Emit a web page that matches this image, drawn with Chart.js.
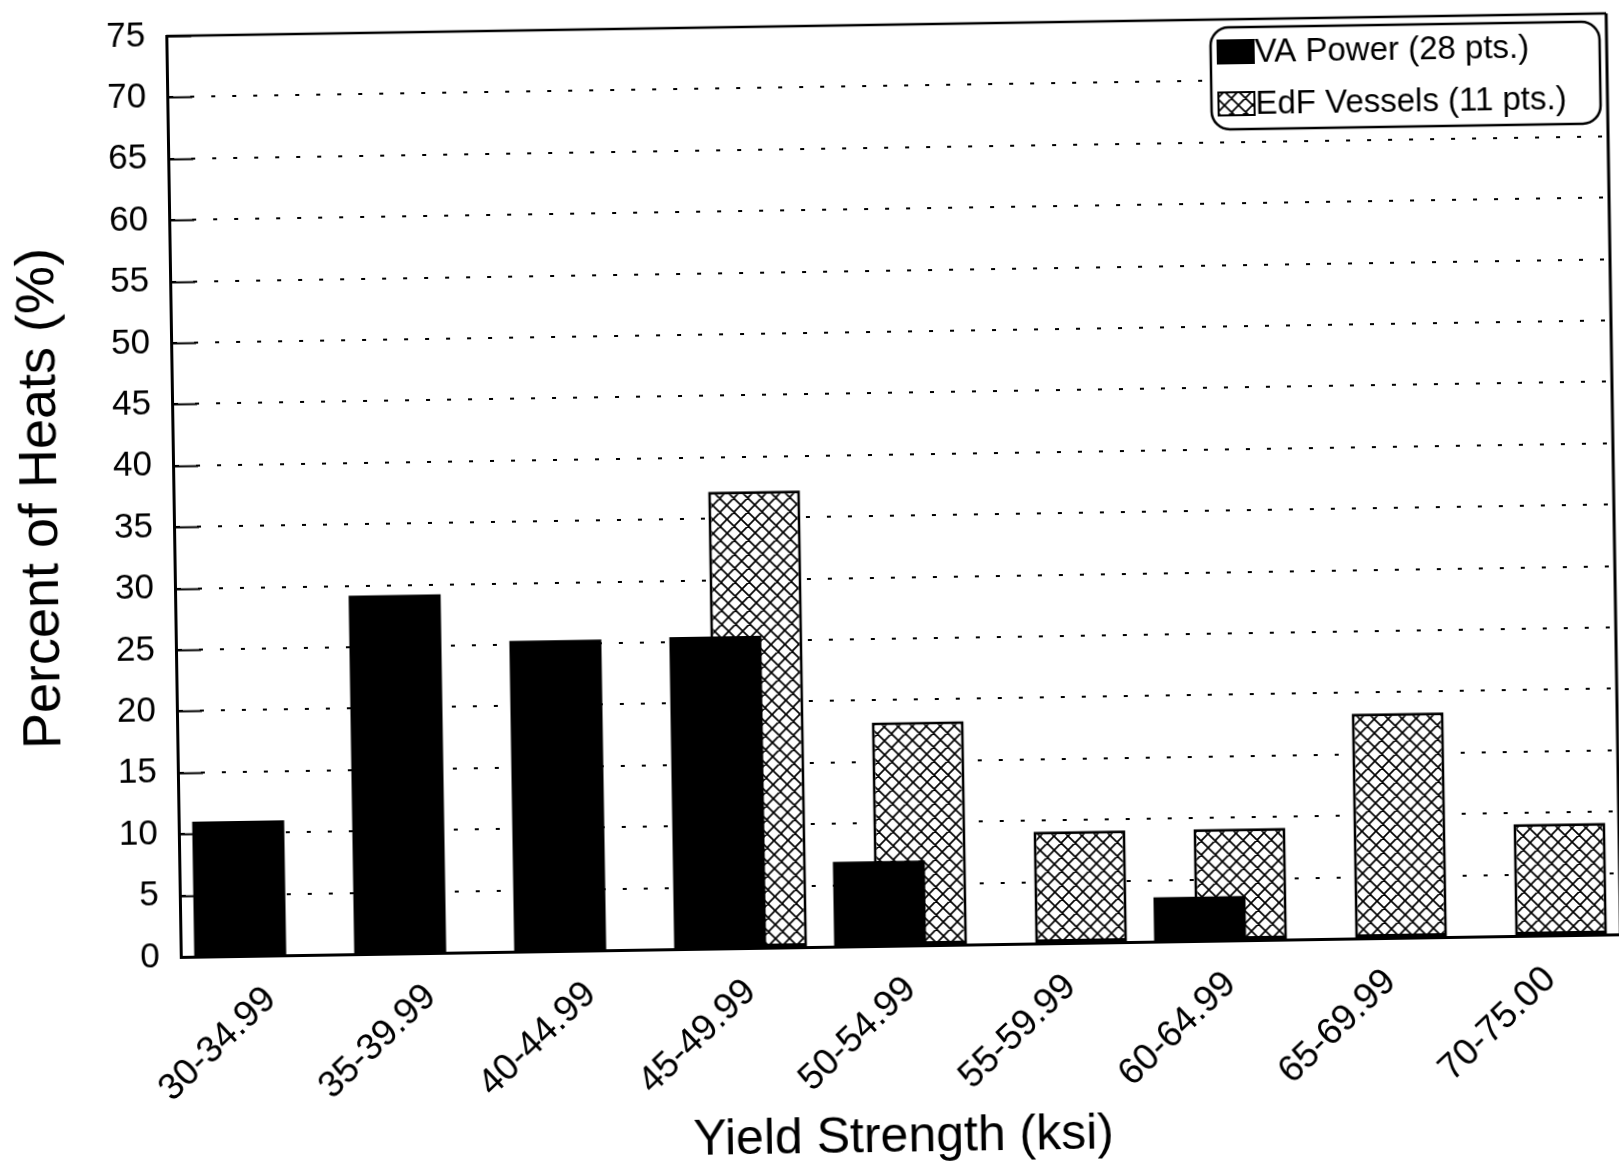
<!DOCTYPE html>
<html>
<head>
<meta charset="utf-8">
<title>Yield Strength Distribution</title>
<script src="https://cdn.jsdelivr.net/npm/chart.js@4.4.1/dist/chart.umd.min.js"></script>
<style>
  html, body { margin: 0; padding: 0; background: #fff; overflow: hidden; }
  #wrap {
    position: absolute; left: 0; top: 0;
    width: 1619px; height: 1169px;
    transform: rotate(-0.9deg);
    transform-origin: 50% 50%;
  }
</style>
</head>
<body>
<div id="wrap"><canvas id="chart" width="1619" height="1169"></canvas></div>
<script>
// Yield strength bins (ksi)
const categories = [
  "30-34.99", "35-39.99", "40-44.99", "45-49.99", "50-54.99",
  "55-59.99", "60-64.99", "65-69.99", "70-75.00"
];
// Percent of heats in each bin
const vaPower = [11.0, 29.2, 25.3, 25.4, 6.9, 0, 3.6, 0, 0];
const edfVessels = [0, 0, 0, 37.2, 18.2, 9.1, 9.1, 18.3, 9.1];
const seriesLabels = ["VA Power (28 pts.)", "EdF Vessels (11 pts.)"];
const yTickValues = [0, 5, 10, 15, 20, 25, 30, 35, 40, 45, 50, 55, 60, 65, 70, 75];

const FONT = "'Liberation Sans', Arial, Helvetica, sans-serif";

// Cross-hatch fill for the EdF bars
function makeHatch() {
  const size = 14;
  const c = document.createElement("canvas");
  c.width = size;
  c.height = size;
  const g = c.getContext("2d");
  g.fillStyle = "#fff";
  g.fillRect(0, 0, size, size);
  g.strokeStyle = "#000";
  g.lineWidth = 1.7;
  g.beginPath();
  [-size, 0, size].forEach((off) => {
    g.moveTo(off, 0);
    g.lineTo(off + size, size);
    g.moveTo(off + size, 0);
    g.lineTo(off, size);
  });
  g.stroke();
  return g.createPattern(c, "repeat");
}
const hatch = makeHatch();

// Top/right frame plus the short solid ticks inside the y axis
const framePlugin = {
  id: "frame",
  afterDatasetsDraw(chart) {
    const { ctx, chartArea } = chart;
    const y = chart.scales.y;
    ctx.save();
    ctx.strokeStyle = "#000";
    ctx.lineWidth = 2;
    ctx.beginPath();
    yTickValues.forEach((v) => {
      const py = Math.round(y.getPixelForValue(v)) + 0.5;
      ctx.moveTo(chartArea.left, py);
      ctx.lineTo(chartArea.left + 25, py);
    });
    ctx.stroke();

    ctx.lineWidth = 2.5;
    ctx.beginPath();
    ctx.moveTo(chartArea.left, chartArea.top);
    ctx.lineTo(chartArea.right, chartArea.top);
    ctx.stroke();
    ctx.lineWidth = 3;
    ctx.beginPath();
    ctx.moveTo(chartArea.right, chartArea.top);
    ctx.lineTo(chartArea.right, chartArea.bottom + 1);
    ctx.stroke();
    ctx.restore();
  },
};

// Rounded legend box in the upper right of the plot
const legendBoxPlugin = {
  id: "legendBox",
  afterDraw(chart) {
    const { ctx, chartArea } = chart;
    const w = 389, h = 102;
    const x = chartArea.right - 7 - w;
    const top = chartArea.top + 8;
    ctx.save();
    ctx.strokeStyle = "#000";
    ctx.lineWidth = 2.5;
    ctx.fillStyle = "#fff";
    ctx.beginPath();
    ctx.roundRect(x, top, w, h, 18);
    ctx.fill();
    ctx.stroke();

    const rows = [
      { label: seriesLabels[0], fill: "#000", dy: 13 },
      { label: seriesLabels[1], fill: hatch, dy: 65 },
    ];
    ctx.font = "33px " + FONT;
    ctx.textBaseline = "middle";
    ctx.textAlign = "left";
    rows.forEach((r) => {
      const sx = x + 7, sy = top + r.dy, sw = 36, sh = 23;
      ctx.fillStyle = r.fill;
      ctx.fillRect(sx, sy, sw, sh);
      ctx.lineWidth = 2;
      ctx.strokeRect(sx, sy, sw, sh);
      ctx.fillStyle = "#000";
      ctx.fillText(r.label, sx + sw + 1, sy + sh / 2 + 1);
    });
    ctx.restore();
  },
};

new Chart(document.getElementById("chart"), {
  type: "bar",
  data: {
    labels: categories,
    datasets: [
      {
        label: seriesLabels[0],
        data: vaPower,
        backgroundColor: "#000",
        borderColor: "#000",
        borderWidth: 0,
      },
      {
        label: seriesLabels[1],
        data: edfVessels,
        backgroundColor: hatch,
        borderColor: "#000",
        borderWidth: 3,
        borderSkipped: false,
      },
    ],
  },
  options: {
    responsive: false,
    animation: false,
    devicePixelRatio: 1,
    categoryPercentage: 0.5125,
    barPercentage: 2.244,
    layout: { padding: { top: 26, right: 4, left: 0, bottom: 0 } },
    plugins: {
      legend: { display: false },
      tooltip: { enabled: false },
    },
    scales: {
      x: {
        grid: { display: false, drawTicks: false },
        border: { display: true, color: "#000", width: 3 },
        ticks: {
          color: "#000",
          font: { family: FONT, size: 37 },
          maxRotation: 43,
          minRotation: 43,
          padding: 22,
          labelOffset: 9,
        },
        title: {
          display: true,
          text: "Yield Strength (ksi)",
          color: "#000",
          font: { family: FONT, size: 50 },
          padding: { top: 0, bottom: 0 },
        },
        afterFit(scale) {
          scale.height = 222;
        },
      },
      y: {
        min: 0,
        max: 75,
        grid: {
          color: "#000",
          lineWidth: 2,
          drawTicks: false,
        },
        border: { display: true, color: "#000", width: 3, dash: [4, 17] },
        ticks: {
          stepSize: 5,
          color: "#000",
          font: { family: FONT, size: 35 },
          padding: 21,
        },
        title: {
          display: true,
          text: "Percent of Heats (%)",
          color: "#000",
          font: { family: FONT, size: 54 },
          padding: { top: 11, bottom: 0 },
        },
        afterFit(scale) {
          scale.width = 175;
          scale.paddingTop = 0;
        },
      },
    },
  },
  plugins: [framePlugin, legendBoxPlugin],
});
</script>
</body>
</html>
